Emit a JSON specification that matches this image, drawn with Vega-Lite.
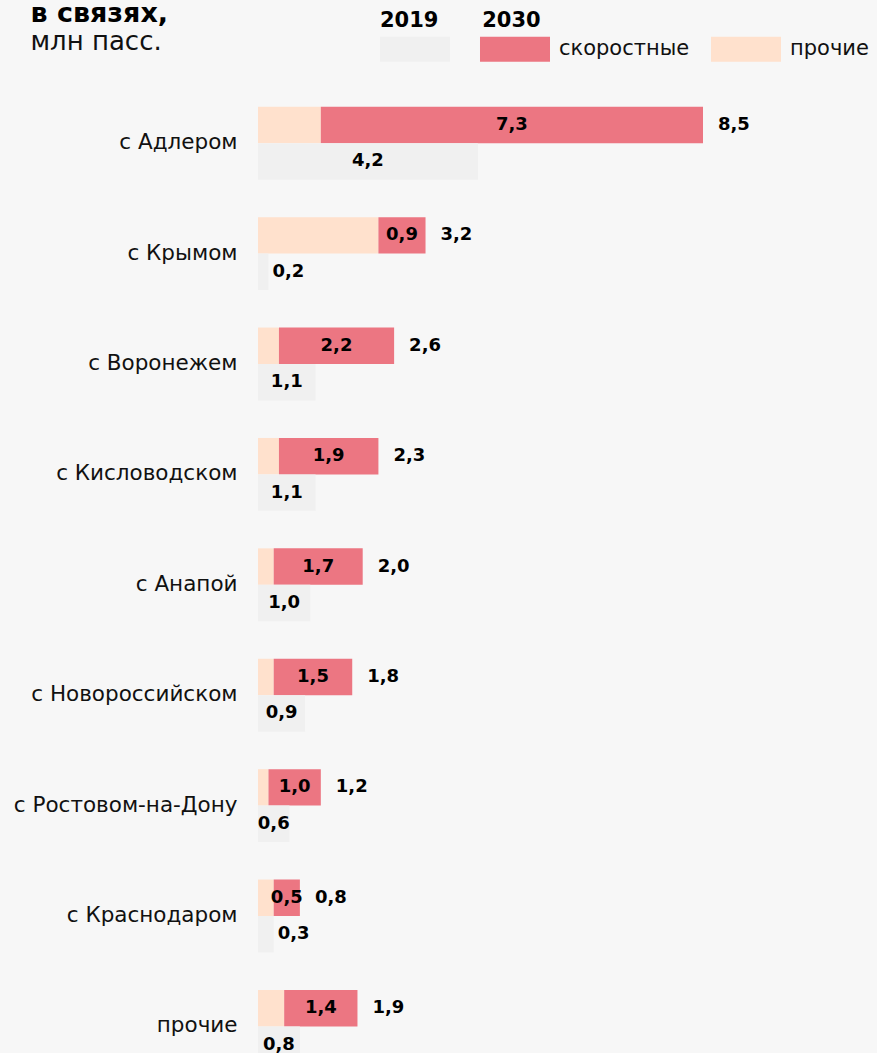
{
  "$schema": "https://vega.github.io/schema/vega-lite/v6.json",
  "width": 445,
  "height": 993.6,
  "autosize": {"type": "none"},
  "padding": {"left": 258, "top": 88, "right": 174, "bottom": 0},
  "background": "#f7f7f7",
  "config": {
    "view": {"stroke": null},
    "font": "DejaVu Sans",
    "locale": {"number": {"decimal": ",", "thousands": " ", "grouping": [3], "currency": ["", ""]}}
  },
  "data": {
    "values": [
      {"city": "с Адлером", "year": "2030", "type": "прочие", "value": 1.2, "total": 8.5},
      {"city": "с Адлером", "year": "2030", "type": "скоростные", "value": 7.3, "total": 8.5},
      {"city": "с Адлером", "year": "2019", "type": "2019", "value": 4.2, "total": 4.2},
      {"city": "с Крымом", "year": "2030", "type": "прочие", "value": 2.3, "total": 3.2},
      {"city": "с Крымом", "year": "2030", "type": "скоростные", "value": 0.9, "total": 3.2},
      {"city": "с Крымом", "year": "2019", "type": "2019", "value": 0.2, "total": 0.2},
      {"city": "с Воронежем", "year": "2030", "type": "прочие", "value": 0.4, "total": 2.6},
      {"city": "с Воронежем", "year": "2030", "type": "скоростные", "value": 2.2, "total": 2.6},
      {"city": "с Воронежем", "year": "2019", "type": "2019", "value": 1.1, "total": 1.1},
      {"city": "с Кисловодском", "year": "2030", "type": "прочие", "value": 0.4, "total": 2.3},
      {"city": "с Кисловодском", "year": "2030", "type": "скоростные", "value": 1.9, "total": 2.3},
      {"city": "с Кисловодском", "year": "2019", "type": "2019", "value": 1.1, "total": 1.1},
      {"city": "с Анапой", "year": "2030", "type": "прочие", "value": 0.3, "total": 2.0},
      {"city": "с Анапой", "year": "2030", "type": "скоростные", "value": 1.7, "total": 2.0},
      {"city": "с Анапой", "year": "2019", "type": "2019", "value": 1.0, "total": 1.0},
      {"city": "с Новороссийском", "year": "2030", "type": "прочие", "value": 0.3, "total": 1.8},
      {"city": "с Новороссийском", "year": "2030", "type": "скоростные", "value": 1.5, "total": 1.8},
      {"city": "с Новороссийском", "year": "2019", "type": "2019", "value": 0.9, "total": 0.9},
      {"city": "с Ростовом-на-Дону", "year": "2030", "type": "прочие", "value": 0.2, "total": 1.2},
      {"city": "с Ростовом-на-Дону", "year": "2030", "type": "скоростные", "value": 1.0, "total": 1.2},
      {"city": "с Ростовом-на-Дону", "year": "2019", "type": "2019", "value": 0.6, "total": 0.6},
      {"city": "с Краснодаром", "year": "2030", "type": "прочие", "value": 0.3, "total": 0.8},
      {"city": "с Краснодаром", "year": "2030", "type": "скоростные", "value": 0.5, "total": 0.8},
      {"city": "с Краснодаром", "year": "2019", "type": "2019", "value": 0.3, "total": 0.3},
      {"city": "прочие", "year": "2030", "type": "прочие", "value": 0.5, "total": 1.9},
      {"city": "прочие", "year": "2030", "type": "скоростные", "value": 1.4, "total": 1.9},
      {"city": "прочие", "year": "2019", "type": "2019", "value": 0.8, "total": 0.8}
    ]
  },
  "transform": [
    {"stack": "value", "groupby": ["city", "year"], "sort": [{"field": "type", "order": "ascending"}], "as": ["x0", "x1"]},
    {"calculate": "(datum.x0 + datum.x1) / 2", "as": "mid"}
  ],
  "encoding": {
    "y": {
      "field": "city",
      "type": "nominal",
      "sort": null,
      "scale": {"paddingInner": 0.34, "paddingOuter": 0.17},
      "axis": {
        "title": "в связях,",
        "titleAngle": 0,
        "titleX": -228,
        "titleY": -66,
        "titleAlign": "left",
        "titleBaseline": "alphabetic",
        "titleFont": "DejaVu Sans",
        "titleFontSize": 27,
        "titleFontWeight": "bold",
        "titleColor": "#000000",
        "domain": false,
        "ticks": false,
        "labelFontSize": 21.5,
        "labelLimit": 400,
        "labelPadding": 21,
        "labelColor": "#111111",
        "labelFont": "DejaVu Sans"
      }
    },
    "yOffset": {"field": "year", "type": "nominal", "sort": ["2030", "2019"], "scale": {"paddingInner": 0, "paddingOuter": 0}}
  },
  "layer": [
    {
      "mark": {"type": "bar"},
      "encoding": {
        "x": {
          "field": "x0",
          "type": "quantitative",
          "scale": {"domain": [0, 8.5], "nice": false, "zero": true},
          "axis": {
            "orient": "top",
            "labels": false,
            "ticks": false,
            "domain": false,
            "grid": false,
            "title": "млн пасс.",
            "titleX": -228,
            "titleY": -38,
            "titleAlign": "left",
            "titleAnchor": "start",
            "titleBaseline": "alphabetic",
            "titleFont": "DejaVu Sans",
            "titleFontSize": 26,
            "titleFontWeight": "normal",
            "titleColor": "#111111"
          }
        },
        "x2": {"field": "x1"},
        "color": {
          "field": "type",
          "type": "nominal",
          "scale": {"domain": ["2019", "скоростные", "прочие"], "range": ["#f0f0f0", "#ec7682", "#ffe1cd"]},
          "legend": {
            "orient": "none",
            "legendX": 122,
            "legendY": -78,
            "direction": "horizontal",
            "padding": 0,
            "title": "2019\u00a0\u00a0\u00a0\u00a0\u00a0\u00a02030",
            "titleFont": "DejaVu Sans",
            "titleFontSize": 21,
            "titleFontWeight": "bold",
            "titleColor": "#000000",
            "titlePadding": -17,
            "labelExpr": "datum.label === '2019' ? '' : datum.label",
            "labelFont": "DejaVu Sans",
            "labelFontSize": 21,
            "labelColor": "#111111",
            "labelOffset": 9,
            "labelLimit": 300,
            "columnPadding": 21,
            "symbolType": "M-1,-0.357H1V0.357H-1Z",
            "symbolSize": 4900,
            "symbolStrokeWidth": 0,
            "symbolOpacity": 1
          }
        }
      }
    },
    {
      "transform": [{"filter": "datum.type === 'скоростные' || (datum.year === '2019' && datum.value >= 0.5)"}],
      "mark": {"type": "text", "fontSize": 18, "fontWeight": "bold", "align": "center", "baseline": "middle", "color": "#000000", "font": "DejaVu Sans"},
      "encoding": {
        "x": {"field": "mid", "type": "quantitative"},
        "text": {"field": "value", "type": "quantitative", "format": ".1f"}
      }
    },
    {
      "transform": [{"filter": "datum.year === '2019' && datum.value < 0.5"}],
      "mark": {"type": "text", "fontSize": 18, "fontWeight": "bold", "align": "left", "baseline": "middle", "dx": 4, "color": "#000000", "font": "DejaVu Sans"},
      "encoding": {
        "x": {"field": "x1", "type": "quantitative"},
        "text": {"field": "value", "type": "quantitative", "format": ".1f"}
      }
    },
    {
      "transform": [{"filter": "datum.type === 'скоростные'"}],
      "mark": {"type": "text", "fontSize": 18, "fontWeight": "bold", "align": "left", "baseline": "middle", "dx": 15, "color": "#000000", "font": "DejaVu Sans"},
      "encoding": {
        "x": {"field": "x1", "type": "quantitative"},
        "text": {"field": "total", "type": "quantitative", "format": ".1f"}
      }
    }
  ]
}
